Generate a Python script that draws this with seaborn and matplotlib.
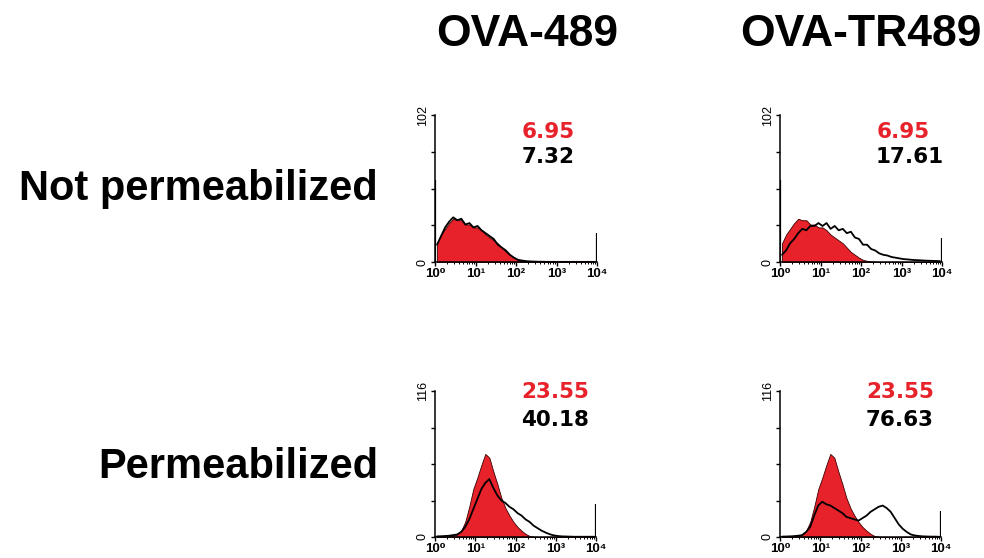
import numpy as np
import pandas as pd
import matplotlib
matplotlib.use("Agg")
import matplotlib.pyplot as plt
import seaborn as sns

# ---------------- data ----------------
columns = ["OVA-489", "OVA-TR489"]
rows = ["Not permeabilized", "Permeabilized"]
y_max = [102, 116]                      # top of the count axis per row
x_ticklabels = ["10\u2070", "10\u00b9", "10\u00b2", "10\u00b3", "10\u2074"]
decades = [0, 1, 2, 3, 4]

ctrl_mfi = ["6.95", "6.95", "23.55", "23.55"]
sample_mfi = ["7.32", "17.61", "40.18", "76.63"]

# counts in 40 bins of 0.1 decade (10^0 .. 10^4)
ctrl_not_perm = [13, 19, 23, 27, 30, 29, 29, 26, 26, 24,
                 24, 22, 19, 17, 15, 13, 10, 7, 5, 3,
                 1.5, 0.8, 0.4, 0.2, 0, 0, 0, 0, 0, 0,
                 0, 0, 0, 0, 0, 0, 0, 0, 0, 0]
ova489_not_perm = [12, 18, 24, 28, 31, 29, 30, 26, 27, 24,
                   25, 22, 20, 18, 16, 12, 10, 8, 5, 3,
                   1.5, 1.0, 0.6, 0.4, 0.3, 0.2, 0.2, 0.1, 0.1, 0.1,
                   0.1, 0.1, 0.1, 0.1, 0.1, 0.1, 0.1, 0.1, 0.1, 0.1]
ovatr489_not_perm = [5, 8, 13, 16, 20, 23, 22, 25, 25, 27,
                     25, 27, 23, 25, 22, 23, 20, 21, 17, 16,
                     12, 12, 9, 8, 6, 5, 4.5, 3.5, 3, 2.5,
                     2, 1.8, 1.5, 1.3, 1.2, 1.0, 0.9, 0.8, 0.7, 0.6]

ctrl_perm = [0, 0, 0.2, 0.5, 1, 2, 5, 12, 24, 38,
             47, 57, 66, 63, 52, 42, 31, 23, 17, 12,
             8, 5, 2.5, 0.8, 0.2, 0, 0, 0, 0, 0,
             0, 0, 0, 0, 0, 0, 0, 0, 0, 0]
ova489_perm = [0.5, 0.6, 0.8, 1, 1.5, 2, 4, 8, 14, 22,
               30, 38, 43, 46, 39, 33, 29, 27, 24, 22,
               19, 17, 14, 12, 9, 7, 5, 3.5, 2.2, 1.3,
               0.8, 0.5, 0.4, 0.3, 0.2, 0.2, 0.2, 0.2, 0.2, 0.2]
ovatr489_perm = [0.3, 0.4, 0.5, 0.7, 1, 1.5, 4, 8, 17, 25,
                 28, 26, 25, 23, 21, 19, 16, 15, 14, 13,
                 15, 17, 20, 22, 24, 25, 23, 20, 15, 10,
                 6.5, 4, 2, 1.2, 0.8, 0.5, 0.4, 0.3, 0.3, 0.2]

# off-scale events piled at the first / last channel
left_spike = [57, 57, 0, 0]
right_spike = [20, 17, 26, 21]

controls = [ctrl_not_perm, ctrl_not_perm, ctrl_perm, ctrl_perm]
samples = [ova489_not_perm, ovatr489_not_perm, ova489_perm, ovatr489_perm]

# ---------------- style ----------------
sns.set_theme(style="white")
plt.rcParams["font.family"] = ["Liberation Sans", "DejaVu Sans"]
plt.rcParams["text.color"] = "black"
plt.rcParams["xtick.color"] = "black"
plt.rcParams["ytick.color"] = "black"

RED = "#e8222a"
W, H = 984, 558
fig = plt.figure(figsize=(W / 100, H / 100), dpi=100)

bin_w = 0.1
n_bins = len(ctrl_not_perm)
x_lo, x_hi = 0.0, n_bins * bin_w
centers = x_lo + bin_w * (np.arange(n_bins) + 0.5)

# axes boxes in pixels: (left, top, right, bottom)
boxes = [(435, 115, 597, 262), (780, 115, 942, 262),
         (435, 391, 596, 537), (780, 391, 941, 537)]

for i, (l, t, r, b) in enumerate(boxes):
    ax = fig.add_axes([l / W, 1 - b / H, (r - l) / W, (b - t) / H])
    ymax = y_max[i // 2]
    df = pd.DataFrame({"pos": centers,
                       "ctrl": np.asarray(controls[i], float),
                       "sample": np.asarray(samples[i], float)})
    sns.histplot(data=df, x="pos", weights="ctrl", binwidth=bin_w,
                 binrange=(x_lo, x_hi), element="poly",
                 fill=True, color=RED, alpha=1.0, edgecolor="#3a0000",
                 linewidth=0.6, ax=ax)
    sns.histplot(data=df, x="pos", weights="sample", binwidth=bin_w,
                 binrange=(x_lo, x_hi), element="poly",
                 fill=False, color="black", linewidth=1.3, ax=ax)
    if left_spike[i] > 0:
        ax.vlines(x_lo + 0.012, 0, left_spike[i], color="black", lw=1.6)
    if right_spike[i] > 0:
        ax.vlines(x_hi - 0.012, 0, right_spike[i], color="black", lw=1.6)

    ax.set_xlim(x_lo, x_hi)
    ax.set_ylim(0, ymax)
    ax.set_xlabel("")
    ax.set_ylabel("")
    ax.set_xticks(decades)
    ax.set_xticklabels(x_ticklabels, fontsize=9.5, fontweight="bold")
    minor = [d + np.log10(k) for d in decades[:-1] for k in range(2, 10)]
    ax.set_xticks(minor, minor=True)
    yt = np.linspace(0, ymax, 5)
    ax.set_yticks(yt)
    ax.set_yticklabels(["0", "", "", "", str(ymax)], rotation=90,
                       va="center", fontsize=9)
    for s in ["top", "right"]:
        ax.spines[s].set_visible(False)
    for s in ["left", "bottom"]:
        ax.spines[s].set_color("black")
        ax.spines[s].set_linewidth(1.1)
    ax.tick_params(axis="both", which="major", direction="out", length=3,
                   width=1, color="black", labelcolor="black", pad=1.5,
                   bottom=True, left=True)
    ax.tick_params(axis="x", which="minor", direction="out", length=1.5,
                   width=0.7, color="black", bottom=True)
    ax.patch.set_alpha(0)

# ---------------- text ----------------
col_x = [527, 861]
for name, cx in zip(columns, col_x):
    fig.text(cx / W, 1 - 46 / H, name, ha="center", va="baseline",
             fontsize=32, fontweight="bold", color="black")

row_base = [200, 478]
for name, by in zip(rows, row_base):
    fig.text(378 / W, 1 - by / H, name, ha="right", va="baseline",
             fontsize=30, fontweight="bold", color="black")

num_pos = [((548, 138), (548, 163)), ((903, 138), (910, 163)),
           ((555, 398), (555, 426)), ((900, 398), (900, 426))]
for i, ((rx, ry), (bx, by)) in enumerate(num_pos):
    fig.text(rx / W, 1 - ry / H, ctrl_mfi[i], ha="center", va="baseline",
             fontsize=15.5, fontweight="bold", color=RED, family="DejaVu Sans")
    fig.text(bx / W, 1 - by / H, sample_mfi[i], ha="center", va="baseline",
             fontsize=15.5, fontweight="bold", color="black", family="DejaVu Sans")

fig.savefig("out.png", dpi=100)
